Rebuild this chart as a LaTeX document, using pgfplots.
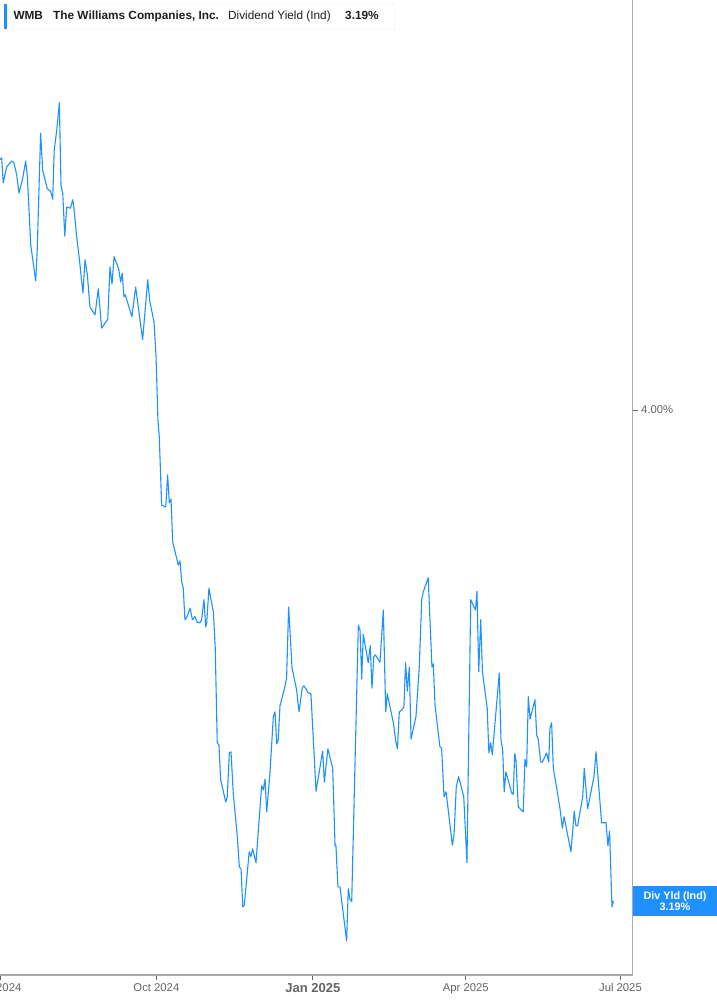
\documentclass[border=0pt]{standalone}
\usepackage{pgfplots}
\pgfplotsset{compat=1.18}
\usepackage{fontspec}
\setmainfont{Liberation Sans}
\definecolor{lineblue}{RGB}{30,144,255}
\definecolor{tickgray}{RGB}{100,100,100}
\definecolor{axisgray}{RGB}{170,170,170}
\definecolor{titlegray}{RGB}{30,30,30}
\begin{document}
\begin{tikzpicture}[x=1pt,y=1pt]
\begin{axis}[
  at={(0pt,30pt)}, anchor=south west,
  scale only axis, width=632.7pt, height=975pt,
  xmin=0, xmax=372.2, ymin=3.0677, ymax=4.6766,
  axis x line=bottom, axis y line=right,
  axis line style={-, draw=axisgray, line width=1.3pt},
  tick align=outside, major tick length=5pt,
  xtick={0,92,184,274,365},
  xticklabels={Jul 2024,Oct 2024,{\fontsize{13}{15}\selectfont\bfseries Jan 2025},Apr 2025,Jul 2025},
  ytick={4}, yticklabels={4.00\%},
  tick style={draw=tickgray, line width=0.8pt},
  ticklabel style={font=\fontsize{11.3}{13}\selectfont, text=tickgray},
  clip=false,
]
\addplot[lineblue, line width=1.1pt, line join=round] coordinates {
(0,4.413)(1.0,4.416)(1.9,4.375)(3.9,4.401)(6.9,4.411)(8.2,4.408)(9.8,4.388)(11.2,4.358)
(13.4,4.383)(15.1,4.411)(16.1,4.385)(18.1,4.272)(21.0,4.213)(21.9,4.264)(23.9,4.457)
(25.1,4.396)(27.8,4.365)(29.8,4.361)(31.0,4.348)(31.9,4.429)(33.4,4.462)(34.9,4.507)
(35.9,4.370)(36.9,4.358)(38.1,4.287)(39.2,4.335)(41.4,4.333)(42.8,4.347)(43.5,4.333)
(45.1,4.286)(46.6,4.251)(48.8,4.193)(50.0,4.248)(51.4,4.223)(52.9,4.170)(55.9,4.157)
(57.8,4.200)(59.8,4.135)(63.4,4.150)(64.7,4.236)(65.9,4.208)(67.1,4.253)(69.8,4.233)
(71.0,4.211)(71.9,4.226)(72.9,4.187)(73.7,4.190)(77.6,4.154)(79.8,4.203)(83.9,4.116)
(86.9,4.215)(88.1,4.180)(90.6,4.145)(91.8,4.088)(92.9,3.984)(93.7,3.956)(95.1,3.843)
(97.5,3.840)(98.6,3.893)(99.6,3.847)(100.6,3.853)(101.6,3.782)(104.9,3.744)(105.9,3.751)
(106.9,3.716)(107.8,3.706)(108.8,3.654)(110.0,3.659)(111.8,3.673)(113.2,3.654)(114.7,3.659)
(115.9,3.650)(117.6,3.649)(118.6,3.654)(120.0,3.687)(121.0,3.642)(121.6,3.649)(122.9,3.706)
(125.5,3.667)(126.6,3.609)(127.8,3.451)(128.8,3.447)(129.8,3.390)(132.8,3.353)(133.7,3.362)
(134.9,3.434)(135.9,3.436)(137.2,3.368)(139.6,3.296)(140.8,3.246)(141.8,3.243)(142.8,3.180)
(143.7,3.183)(146.6,3.271)(147.6,3.263)(148.6,3.276)(150.6,3.253)(153.9,3.380)(154.9,3.373)
(155.9,3.391)(156.9,3.337)(158.8,3.401)(160.8,3.494)(161.8,3.502)(162.8,3.449)(163.7,3.456)
(164.7,3.512)(167.6,3.543)(168.6,3.558)(169.8,3.675)(171.8,3.574)(174.5,3.538)(175.9,3.502)
(177.8,3.541)(178.8,3.545)(181.4,3.533)(182.9,3.532)(185.9,3.371)(189.8,3.437)(190.8,3.386)
(192.9,3.441)(195.7,3.409)(197.1,3.281)(197.6,3.282)(198.8,3.213)(200.0,3.213)(203.9,3.124)
(204.9,3.210)(205.9,3.192)(206.9,3.189)(210.8,3.645)(211.8,3.637)(212.8,3.556)(213.7,3.630)
(216.6,3.583)(217.8,3.611)(218.8,3.541)(219.9,3.593)(220.8,3.596)(223.5,3.584)(225.5,3.670)
(226.9,3.502)(227.8,3.532)(231.4,3.484)(232.9,3.452)(233.8,3.441)(234.9,3.502)(236.3,3.505)
(237.6,3.510)(238.6,3.583)(239.6,3.536)(240.8,3.576)(241.8,3.457)(244.7,3.494)(246.6,3.574)
(248.1,3.688)(249.0,3.700)(251.9,3.723)(254.1,3.576)(254.9,3.581)(255.9,3.513)(258.8,3.444)
(259.8,3.442)(261.2,3.362)(262.4,3.370)(266.1,3.282)(267.1,3.299)(268.4,3.378)(269.8,3.395)
(272.8,3.362)(274.7,3.253)(276.9,3.687)(279.7,3.670)(280.6,3.701)(281.6,3.568)(282.8,3.654)
(283.8,3.568)(286.6,3.508)(287.6,3.434)(288.6,3.451)(289.6,3.431)(293.7,3.566)(294.7,3.456)
(295.7,3.439)(296.6,3.370)(297.6,3.403)(301.0,3.368)(301.9,3.366)(302.8,3.433)(303.5,3.423)
(304.9,3.345)(307.8,3.337)(308.8,3.424)(309.8,3.411)(310.8,3.527)(311.8,3.490)(314.7,3.522)
(315.7,3.464)(316.6,3.457)(318.1,3.419)(319.0,3.419)(321.6,3.434)(322.8,3.419)(323.5,3.475)
(324.5,3.484)(325.5,3.409)(329.4,3.343)(330.8,3.310)(331.8,3.329)(335.9,3.271)(337.8,3.338)
(338.8,3.314)(339.8,3.314)(342.8,3.362)(343.7,3.409)(345.7,3.342)(349.4,3.395)(350.6,3.436)
(353.9,3.319)(356.5,3.319)(357.6,3.281)(358.6,3.305)(360.0,3.180)(360.8,3.190)
};
\end{axis}
% title box
\draw[rounded corners=2pt, draw=black!10, fill=white] (4,1001) rectangle (395,975);
\fill[lineblue] (4,1000.5) rectangle (6.7,975.5);
\begin{scope}[every node/.style={anchor=base west, inner sep=0pt, text=titlegray, font=\fontsize{11.8}{13}\selectfont}]
\node at (13.3,985) {\bfseries WMB};
\node at (53,985) {\bfseries The Williams Companies, Inc.};
\node at (228,985) {Dividend Yield (Ind)};
\node at (345,985) {\bfseries 3.19\%};
\end{scope}
% last value label
\fill[lineblue] (632.7,89.3) rectangle (717,119);
\node[align=center, text=white, inner sep=0pt, font=\fontsize{10.8}{11}\selectfont\bfseries] at (675,104.2) {Div Yld (Ind)\\3.19\%};
\pgfresetboundingbox
\useasboundingbox (0,0) rectangle (717,1005);
\end{tikzpicture}
\end{document}
